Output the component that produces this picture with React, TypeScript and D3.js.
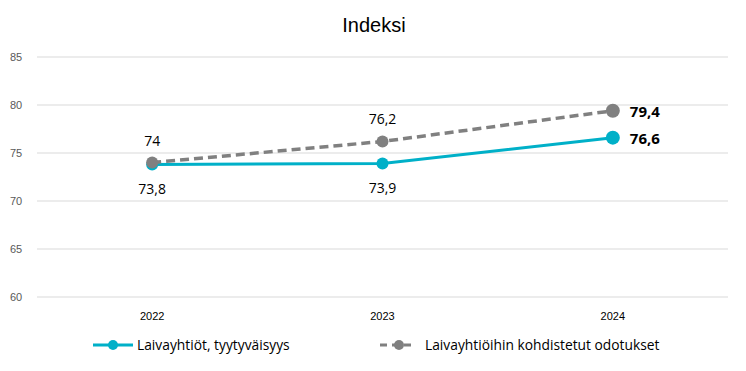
import React from "react";
import * as d3 from "d3";

const years = ["2022", "2023", "2024"];
const satisfaction = [73.8, 73.9, 76.6];
const expectations = [74, 76.2, 79.4];
const yTicks = [60, 65, 70, 75, 80, 85];
const seriesNames = ["Laivayhtiöt, tyytyväisyys", "Laivayhtiöihin kohdistetut odotukset"];

const W = 746;
const H = 371;
const TEAL = "#00B0C8";
const GREY = "#808080";
const fmt = (v: number) => String(v).replace(".", ",");

export default function App() {
  const x = d3.scaleBand<string>().domain(years).range([37, 728]);
  const y = d3.scaleLinear().domain([60, 85]).range([297, 57]);
  const cx = (d: string) => (x(d) as number) + x.bandwidth() / 2;
  const line = d3
    .line<number>()
    .x((_, i) => cx(years[i]))
    .y((v) => y(v));
  const font = "'Liberation Sans', Arial, sans-serif";
  const labelFont = "'Open Sans', 'Noto Sans', sans-serif";

  return (
    <svg
      width={W}
      height={H}
      style={{ position: "absolute", left: 0, top: 0, background: "#fff" }}
    >
      <text x={374} y={32} textAnchor="middle" fontFamily={font} fontSize={20} fill="#000">
        Indeksi
      </text>
      {yTicks.map((t) => (
        <g key={t}>
          <line x1={37} x2={728} y1={y(t)} y2={y(t)} stroke="#d9d9d9" strokeWidth={1} />
          <text x={10} y={y(t) + 4} fontFamily={font} fontSize={11} fill="#595959">
            {t}
          </text>
        </g>
      ))}
      {years.map((yr) => (
        <text key={yr} x={cx(yr)} y={320} textAnchor="middle" fontFamily={font} fontSize={11} fill="#000">
          {yr}
        </text>
      ))}
      <path d={line(satisfaction) || ""} fill="none" stroke={TEAL} strokeWidth={3} />
      {satisfaction.map((v, i) => (
        <circle key={"s" + i} cx={cx(years[i])} cy={y(v)} r={i === 2 ? 7 : 6} fill={TEAL} />
      ))}
      <path d={line(expectations) || ""} fill="none" stroke={GREY} strokeWidth={3.5} strokeDasharray="9,5" />
      {expectations.map((v, i) => (
        <circle key={"e" + i} cx={cx(years[i])} cy={y(v)} r={i === 2 ? 7 : 6} fill={GREY} />
      ))}
      {satisfaction.map((v, i) =>
        i < 2 ? (
          <text key={"sl" + i} x={cx(years[i])} y={y(v) + 29} textAnchor="middle" fontFamily={labelFont} fontSize={14} fill="#000">
            {fmt(v)}
          </text>
        ) : (
          <text key={"sl" + i} x={cx(years[i]) + 17} y={y(v) + 6} fontFamily={labelFont} fontSize={15} fontWeight="bold" fill="#000">
            {fmt(v)}
          </text>
        )
      )}
      {expectations.map((v, i) =>
        i < 2 ? (
          <text key={"el" + i} x={cx(years[i])} y={y(v) - 17} textAnchor="middle" fontFamily={labelFont} fontSize={14} fill="#000">
            {fmt(v)}
          </text>
        ) : (
          <text key={"el" + i} x={cx(years[i]) + 17} y={y(v) + 6} fontFamily={labelFont} fontSize={15} fontWeight="bold" fill="#000">
            {fmt(v)}
          </text>
        )
      )}
      <g>
        <line x1={93} x2={133} y1={345} y2={345} stroke={TEAL} strokeWidth={3} />
        <circle cx={113} cy={345} r={5} fill={TEAL} />
        <text x={137} y={350} fontFamily={labelFont} fontSize={13.8} fill="#000">
          {seriesNames[0]}
        </text>
        <line x1={380} x2={416} y1={345} y2={345} stroke={GREY} strokeWidth={3} strokeDasharray="7,5" />
        <circle cx={399} cy={345} r={5} fill={GREY} />
        <text x={425} y={350} fontFamily={labelFont} fontSize={13.8} fill="#000">
          {seriesNames[1]}
        </text>
      </g>
    </svg>
  );
}
